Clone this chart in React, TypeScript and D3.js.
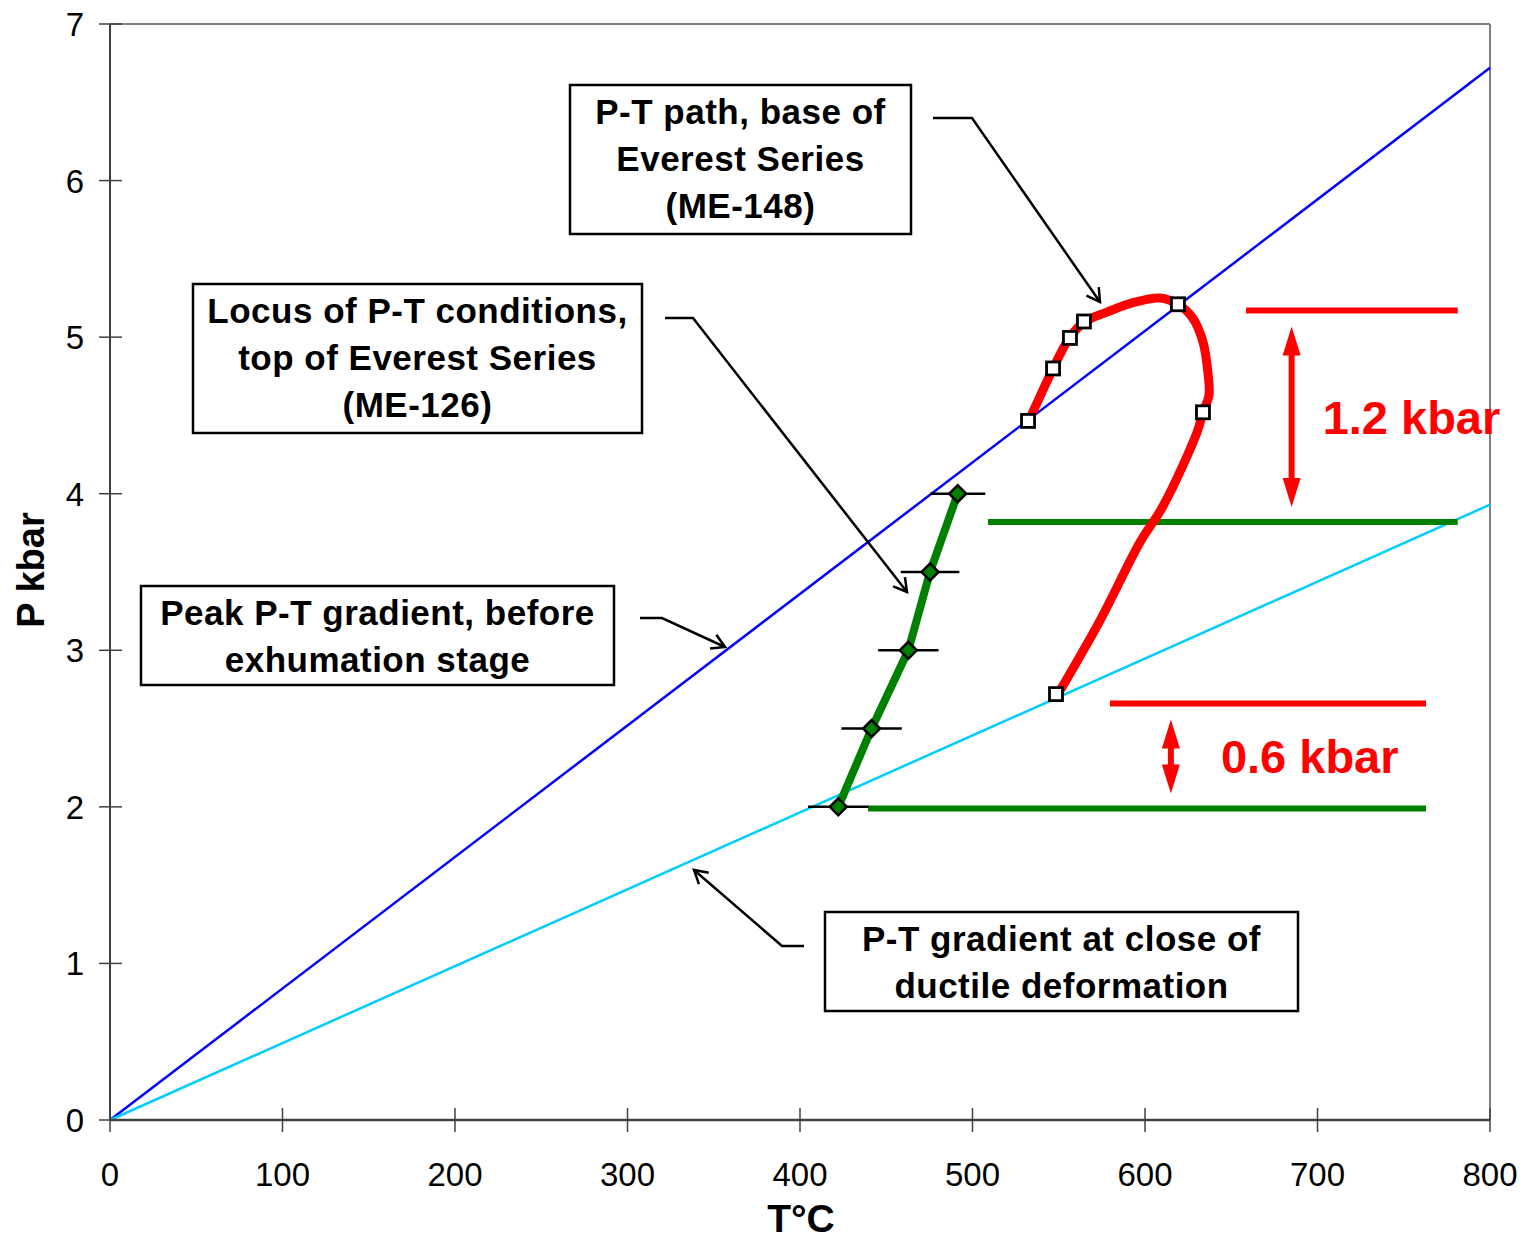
import React from 'react'
import * as d3 from 'd3'

// axis ticks
const tempTicks = [0, 100, 200, 300, 400, 500, 600, 700, 800]
const pressTicks = [0, 1, 2, 3, 4, 5, 6, 7]

// geothermal gradients (T °C, P kbar), both from the origin
const peakGradient = [
	{ t: 0, p: 0 },
	{ t: 800, p: 6.72 },
]
const closeGradient = [
	{ t: 0, p: 0 },
	{ t: 800, p: 3.93 },
]

// P-T path, base of Everest Series (ME-148), traced
const pathTrace = [
	{ t: 532.8, p: 4.47 },
	{ t: 539.1, p: 4.62 },
	{ t: 546.7, p: 4.8 },
	{ t: 556.5, p: 5.0 },
	{ t: 565.2, p: 5.1 },
	{ t: 578.0, p: 5.16 },
	{ t: 593.0, p: 5.22 },
	{ t: 608.7, p: 5.25 },
	{ t: 619.1, p: 5.21 },
	{ t: 627.8, p: 5.12 },
	{ t: 633.6, p: 4.97 },
	{ t: 636.5, p: 4.77 },
	{ t: 637.1, p: 4.63 },
	{ t: 633.6, p: 4.52 },
	{ t: 630.1, p: 4.39 },
	{ t: 610.4, p: 3.92 },
	{ t: 597.1, p: 3.69 },
	{ t: 573.9, p: 3.19 },
	{ t: 549.0, p: 2.71 },
]
// measured points on that path
const pathPoints = [
	{ t: 532.2, p: 4.465 },
	{ t: 546.7, p: 4.8 },
	{ t: 556.5, p: 4.995 },
	{ t: 564.6, p: 5.1 },
	{ t: 619.1, p: 5.21 },
	{ t: 633.6, p: 4.52 },
	{ t: 548.4, p: 2.72 },
]

// locus of P-T conditions, top of Everest Series (ME-126)
const locusPoints = [
	{ t: 422.2, p: 2.0, err: 17.5 },
	{ t: 441.5, p: 2.5, err: 17.5 },
	{ t: 462.8, p: 3.0, err: 17.5 },
	{ t: 475.4, p: 3.5, err: 17 },
	{ t: 491.4, p: 4.0, err: 16 },
]

// pressure difference markers
const redLevels = [
	{ p: 5.17, t0: 658.6, t1: 781.3 },
	{ p: 2.66, t0: 579.7, t1: 762.9 },
]
const greenLevels = [
	{ p: 3.82, t0: 509, t1: 781.3 },
	{ p: 1.99, t0: 439.4, t1: 762.9 },
]
const gaps = [
	{ t: 685, p0: 3.82, p1: 5.17, label: '1.2 kbar' },
	{ t: 615, p0: 1.99, p1: 2.66, label: '0.6 kbar' },
]

const W = 1527
const H = 1240
const FONT = "'Liberation Sans', Arial, sans-serif"

const x = d3.scaleLinear().domain([0, 800]).range([110, 1490])
const y = d3.scaleLinear().domain([0, 7]).range([1120, 24])

const line = d3
	.line<{ t: number; p: number }>()
	.x(d => x(d.t))
	.y(d => y(d.p))

const smooth = d3
	.line<{ t: number; p: number }>()
	.x(d => x(d.t))
	.y(d => y(d.p))
	.curve(d3.curveCatmullRom.alpha(0.5))

// callout boxes, in pixels
const boxes = [
	{ x: 570, y: 85, w: 341, h: 149, lines: ['P-T path, base of', 'Everest Series', '(ME-148)'], base: 124 },
	{ x: 193, y: 284, w: 449, h: 149, lines: ['Locus of P-T conditions,', 'top of Everest Series', '(ME-126)'], base: 323 },
	{ x: 141, y: 586, w: 473, h: 99, lines: ['Peak P-T gradient, before', 'exhumation stage'], base: 625 },
	{ x: 825, y: 912, w: 473, h: 99, lines: ['P-T gradient at close of', 'ductile deformation'], base: 951 },
]
const callouts = [
	[[933, 118], [972, 118], [1100, 302]],
	[[665, 318], [693, 318], [907, 592]],
	[[640, 618], [662, 618], [725, 647]],
	[[804, 946], [782, 946], [694, 870]],
]

const arrowHead = (pts: number[][], len = 15) => {
	const [a, b] = [pts[pts.length - 2], pts[pts.length - 1]]
	const ang = Math.atan2(b[1] - a[1], b[0] - a[0])
	const s = Math.PI / 6
	const p1 = [b[0] - len * Math.cos(ang - s), b[1] - len * Math.sin(ang - s)]
	const p2 = [b[0] - len * Math.cos(ang + s), b[1] - len * Math.sin(ang + s)]
	return `M${p1[0]},${p1[1]}L${b[0]},${b[1]}L${p2[0]},${p2[1]}`
}

const App = () => {
	return (
		<svg
			width={W}
			height={H}
			style={{ position: 'absolute', left: 0, top: 0, background: '#fff' }}
			fontFamily={FONT}
		>
			{/* frame */}
			<line x1={x(0)} x2={x(800)} y1={y(7)} y2={y(7)} stroke='#808080' strokeWidth={2} />
			<line x1={x(800)} x2={x(800)} y1={y(7)} y2={y(0)} stroke='#808080' strokeWidth={2} />

			{/* gradients */}
			<path d={line(peakGradient)!} stroke='#0000ff' strokeWidth={2.5} fill='none' />
			<path d={line(closeGradient)!} stroke='#00ccff' strokeWidth={2.5} fill='none' />

			{/* level lines */}
			{redLevels.map((d, i) => (
				<line key={'r' + i} x1={x(d.t0)} x2={x(d.t1)} y1={y(d.p)} y2={y(d.p)} stroke='#ff0000' strokeWidth={6} />
			))}
			{greenLevels.map((d, i) => (
				<line key={'g' + i} x1={x(d.t0)} x2={x(d.t1)} y1={y(d.p)} y2={y(d.p)} stroke='#008000' strokeWidth={6} />
			))}

			{/* double arrows + labels */}
			{gaps.map((g, i) => {
				const cx = x(g.t)
				const top = y(g.p1) + 16
				const bot = y(g.p0) - 15
				const hl = 29
				const hw = 9
				return (
					<g key={'gap' + i}>
						<line x1={cx} x2={cx} y1={top + hl - 2} y2={bot - hl + 2} stroke='#ff0000' strokeWidth={6} />
						<path d={`M${cx},${top}L${cx + hw},${top + hl}L${cx - hw},${top + hl}Z`} fill='#ff0000' />
						<path d={`M${cx},${bot}L${cx + hw},${bot - hl}L${cx - hw},${bot - hl}Z`} fill='#ff0000' />
						<text
							x={cx + (i === 0 ? 31 : 50)}
							y={(top + bot) / 2 + 17}
							fontSize={47}
							fontWeight='bold'
							fill='#ff0000'
						>
							{g.label}
						</text>
					</g>
				)
			})}

			{/* P-T path */}
			<path d={smooth(pathTrace)!} stroke='#ff0000' strokeWidth={9} fill='none' strokeLinejoin='round' />
			{pathPoints.map((d, i) => (
				<rect key={'s' + i} x={x(d.t) - 6.5} y={y(d.p) - 6.5} width={13} height={13} fill='#fff' stroke='#000' strokeWidth={2.8} />
			))}

			{/* locus */}
			<path d={line(locusPoints)!} stroke='#008000' strokeWidth={8} fill='none' />
			{locusPoints.map((d, i) => (
				<line key={'e' + i} x1={x(d.t - d.err)} x2={x(d.t + d.err)} y1={y(d.p)} y2={y(d.p)} stroke='#000' strokeWidth={2.5} />
			))}
			{locusPoints.map((d, i) => {
				const cx = x(d.t)
				const cy = y(d.p)
				const r = 8.5
				return (
					<path
						key={'d' + i}
						d={`M${cx},${cy - r}L${cx + r},${cy}L${cx},${cy + r}L${cx - r},${cy}Z`}
						fill='#008000'
						stroke='#000'
						strokeWidth={2.5}
					/>
				)
			})}

			{/* axes */}
			<line x1={x(0)} x2={x(800)} y1={y(0)} y2={y(0)} stroke='#404040' strokeWidth={2.5} />
			<line x1={x(0)} x2={x(0)} y1={y(0)} y2={y(7)} stroke='#000' strokeWidth={1.5} />
			{tempTicks.map(t => (
				<g key={'xt' + t}>
					<line x1={x(t)} x2={x(t)} y1={y(0) - 12} y2={y(0) + 12} stroke='#404040' strokeWidth={1.5} />
					<text x={x(t)} y={1186} fontSize={33} textAnchor='middle' fill='#000'>
						{t}
					</text>
				</g>
			))}
			{pressTicks.map(p => (
				<g key={'yt' + p}>
					<line x1={x(0) - 11} x2={x(0) + 12} y1={y(p)} y2={y(p)} stroke='#404040' strokeWidth={1.5} />
					<text x={84} y={y(p) + 12} fontSize={33} textAnchor='end' fill='#000'>
						{p}
					</text>
				</g>
			))}
			<text x={801} y={1232} fontSize={39} fontWeight='bold' textAnchor='middle'>
				T°C
			</text>
			<text transform='translate(44,570) rotate(-90)' fontSize={38} fontWeight='bold' textAnchor='middle'>
				P kbar
			</text>

			{/* callouts */}
			{callouts.map((pts, i) => (
				<g key={'c' + i} stroke='#000' strokeWidth={2.5} fill='none'>
					<path d={d3.line()(pts as [number, number][])!} />
					<path d={arrowHead(pts)} />
				</g>
			))}
			{boxes.map((b, i) => (
				<g key={'b' + i}>
					<rect x={b.x} y={b.y} width={b.w} height={b.h} fill='#fff' stroke='#000' strokeWidth={2.5} />
					{b.lines.map((l, j) => (
						<text
							key={j}
							x={b.x + b.w / 2}
							y={b.base + j * 47}
							fontSize={35}
							fontWeight='bold'
							textAnchor='middle'
							letterSpacing={0.5}
						>
							{l}
						</text>
					))}
				</g>
			))}
		</svg>
	)
}

export default App
